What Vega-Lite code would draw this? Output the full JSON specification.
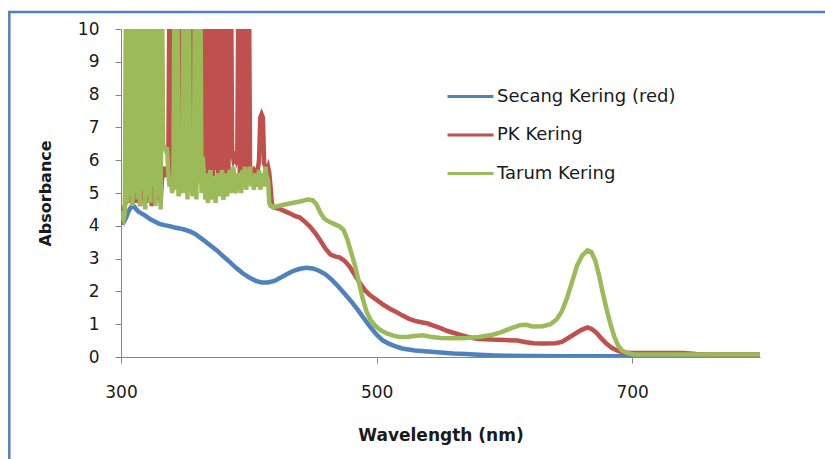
{
  "$schema": "https://vega.github.io/schema/vega-lite/v6.json",
  "width": 639,
  "height": 328,
  "autosize": "none",
  "padding": {"left": 121, "top": 29, "right": 65, "bottom": 102},
  "background": "white",
  "config": {
    "view": {"stroke": null},
    "font": "DejaVu Sans",
    "axis": {
      "grid": false,
      "domainColor": "#868686",
      "domainWidth": 1,
      "tickColor": "#868686",
      "tickSize": 6,
      "labelColor": "#1a1a1a",
      "labelFont": "DejaVu Sans",
      "labelFontSize": 17,
      "labelFlush": false,
      "labelOverlap": false,
      "titleColor": "#1a1a1a",
      "titleFont": "DejaVu Sans",
      "titleFontWeight": "bold"
    },
    "legend": {
      "orient": "none",
      "legendX": 325,
      "legendY": 43,
      "symbolType": "stroke",
      "symbolSize": 2116,
      "symbolStrokeWidth": 3,
      "labelFont": "DejaVu Sans",
      "labelFontSize": 18,
      "labelColor": "#1a1a1a",
      "labelOffset": 2,
      "rowPadding": 4.5,
      "labelLimit": 400
    }
  },
  "datasets": {
    "spectra": [
      {"series": "Secang Kering (red)", "wavelength": 300, "absorbance": 4.08},
      {"series": "Secang Kering (red)", "wavelength": 302, "absorbance": 4.1},
      {"series": "Secang Kering (red)", "wavelength": 304, "absorbance": 4.25},
      {"series": "Secang Kering (red)", "wavelength": 306, "absorbance": 4.45},
      {"series": "Secang Kering (red)", "wavelength": 308, "absorbance": 4.58},
      {"series": "Secang Kering (red)", "wavelength": 310, "absorbance": 4.6},
      {"series": "Secang Kering (red)", "wavelength": 312, "absorbance": 4.5},
      {"series": "Secang Kering (red)", "wavelength": 314, "absorbance": 4.42},
      {"series": "Secang Kering (red)", "wavelength": 316, "absorbance": 4.38},
      {"series": "Secang Kering (red)", "wavelength": 318, "absorbance": 4.33},
      {"series": "Secang Kering (red)", "wavelength": 320, "absorbance": 4.28},
      {"series": "Secang Kering (red)", "wavelength": 323, "absorbance": 4.2},
      {"series": "Secang Kering (red)", "wavelength": 326, "absorbance": 4.14},
      {"series": "Secang Kering (red)", "wavelength": 330, "absorbance": 4.06},
      {"series": "Secang Kering (red)", "wavelength": 334, "absorbance": 4.02},
      {"series": "Secang Kering (red)", "wavelength": 338, "absorbance": 3.99},
      {"series": "Secang Kering (red)", "wavelength": 342, "absorbance": 3.95},
      {"series": "Secang Kering (red)", "wavelength": 346, "absorbance": 3.92},
      {"series": "Secang Kering (red)", "wavelength": 350, "absorbance": 3.88},
      {"series": "Secang Kering (red)", "wavelength": 354, "absorbance": 3.83},
      {"series": "Secang Kering (red)", "wavelength": 358, "absorbance": 3.75},
      {"series": "Secang Kering (red)", "wavelength": 362, "absorbance": 3.64},
      {"series": "Secang Kering (red)", "wavelength": 366, "absorbance": 3.52},
      {"series": "Secang Kering (red)", "wavelength": 370, "absorbance": 3.4},
      {"series": "Secang Kering (red)", "wavelength": 375, "absorbance": 3.25},
      {"series": "Secang Kering (red)", "wavelength": 380, "absorbance": 3.07},
      {"series": "Secang Kering (red)", "wavelength": 385, "absorbance": 2.9},
      {"series": "Secang Kering (red)", "wavelength": 390, "absorbance": 2.72},
      {"series": "Secang Kering (red)", "wavelength": 395, "absorbance": 2.56},
      {"series": "Secang Kering (red)", "wavelength": 400, "absorbance": 2.43},
      {"series": "Secang Kering (red)", "wavelength": 405, "absorbance": 2.33},
      {"series": "Secang Kering (red)", "wavelength": 410, "absorbance": 2.27},
      {"series": "Secang Kering (red)", "wavelength": 415, "absorbance": 2.27},
      {"series": "Secang Kering (red)", "wavelength": 420, "absorbance": 2.32},
      {"series": "Secang Kering (red)", "wavelength": 425, "absorbance": 2.42},
      {"series": "Secang Kering (red)", "wavelength": 430, "absorbance": 2.53},
      {"series": "Secang Kering (red)", "wavelength": 435, "absorbance": 2.63},
      {"series": "Secang Kering (red)", "wavelength": 440, "absorbance": 2.69},
      {"series": "Secang Kering (red)", "wavelength": 445, "absorbance": 2.72},
      {"series": "Secang Kering (red)", "wavelength": 450, "absorbance": 2.7},
      {"series": "Secang Kering (red)", "wavelength": 455, "absorbance": 2.63},
      {"series": "Secang Kering (red)", "wavelength": 460, "absorbance": 2.52},
      {"series": "Secang Kering (red)", "wavelength": 465, "absorbance": 2.35},
      {"series": "Secang Kering (red)", "wavelength": 470, "absorbance": 2.15},
      {"series": "Secang Kering (red)", "wavelength": 475, "absorbance": 1.93},
      {"series": "Secang Kering (red)", "wavelength": 480, "absorbance": 1.7},
      {"series": "Secang Kering (red)", "wavelength": 485, "absorbance": 1.45},
      {"series": "Secang Kering (red)", "wavelength": 490, "absorbance": 1.18},
      {"series": "Secang Kering (red)", "wavelength": 495, "absorbance": 0.92},
      {"series": "Secang Kering (red)", "wavelength": 500, "absorbance": 0.68},
      {"series": "Secang Kering (red)", "wavelength": 505, "absorbance": 0.5},
      {"series": "Secang Kering (red)", "wavelength": 510, "absorbance": 0.4},
      {"series": "Secang Kering (red)", "wavelength": 515, "absorbance": 0.32},
      {"series": "Secang Kering (red)", "wavelength": 520, "absorbance": 0.26},
      {"series": "Secang Kering (red)", "wavelength": 530, "absorbance": 0.2},
      {"series": "Secang Kering (red)", "wavelength": 540, "absorbance": 0.17},
      {"series": "Secang Kering (red)", "wavelength": 550, "absorbance": 0.14},
      {"series": "Secang Kering (red)", "wavelength": 560, "absorbance": 0.11},
      {"series": "Secang Kering (red)", "wavelength": 570, "absorbance": 0.09},
      {"series": "Secang Kering (red)", "wavelength": 580, "absorbance": 0.07},
      {"series": "Secang Kering (red)", "wavelength": 590, "absorbance": 0.05},
      {"series": "Secang Kering (red)", "wavelength": 600, "absorbance": 0.04},
      {"series": "Secang Kering (red)", "wavelength": 620, "absorbance": 0.03},
      {"series": "Secang Kering (red)", "wavelength": 650, "absorbance": 0.02},
      {"series": "Secang Kering (red)", "wavelength": 700, "absorbance": 0.02},
      {"series": "Secang Kering (red)", "wavelength": 750, "absorbance": 0.02},
      {"series": "Secang Kering (red)", "wavelength": 800, "absorbance": 0.02},

      {"series": "PK Kering", "wavelength": 300, "absorbance": 4.4},
      {"series": "PK Kering", "wavelength": 301, "absorbance": 4.3},
      {"series": "PK Kering", "wavelength": 302, "absorbance": 4.5},
      {"series": "PK Kering", "wavelength": 303, "absorbance": 4.6},
      {"series": "PK Kering", "wavelength": 304, "absorbance": 4.8},
      {"series": "PK Kering", "wavelength": 305, "absorbance": 5.3},
      {"series": "PK Kering", "wavelength": 306, "absorbance": 4.7},
      {"series": "PK Kering", "wavelength": 307, "absorbance": 5.0},
      {"series": "PK Kering", "wavelength": 308, "absorbance": 5.6},
      {"series": "PK Kering", "wavelength": 309, "absorbance": 4.8},
      {"series": "PK Kering", "wavelength": 310, "absorbance": 5.2},
      {"series": "PK Kering", "wavelength": 311, "absorbance": 4.7},
      {"series": "PK Kering", "wavelength": 312, "absorbance": 5.5},
      {"series": "PK Kering", "wavelength": 313, "absorbance": 4.9},
      {"series": "PK Kering", "wavelength": 314, "absorbance": 5.1},
      {"series": "PK Kering", "wavelength": 315, "absorbance": 4.6},
      {"series": "PK Kering", "wavelength": 316, "absorbance": 5.4},
      {"series": "PK Kering", "wavelength": 317, "absorbance": 4.8},
      {"series": "PK Kering", "wavelength": 318, "absorbance": 5.0},
      {"series": "PK Kering", "wavelength": 319, "absorbance": 5.6},
      {"series": "PK Kering", "wavelength": 320, "absorbance": 4.7},
      {"series": "PK Kering", "wavelength": 321, "absorbance": 5.2},
      {"series": "PK Kering", "wavelength": 322, "absorbance": 4.9},
      {"series": "PK Kering", "wavelength": 323, "absorbance": 5.5},
      {"series": "PK Kering", "wavelength": 324, "absorbance": 4.6},
      {"series": "PK Kering", "wavelength": 325, "absorbance": 5.0},
      {"series": "PK Kering", "wavelength": 326, "absorbance": 5.3},
      {"series": "PK Kering", "wavelength": 327, "absorbance": 4.8},
      {"series": "PK Kering", "wavelength": 328, "absorbance": 5.6},
      {"series": "PK Kering", "wavelength": 329, "absorbance": 4.9},
      {"series": "PK Kering", "wavelength": 330, "absorbance": 5.1},
      {"series": "PK Kering", "wavelength": 331, "absorbance": 4.7},
      {"series": "PK Kering", "wavelength": 332, "absorbance": 5.4},
      {"series": "PK Kering", "wavelength": 333, "absorbance": 5.6},
      {"series": "PK Kering", "wavelength": 334, "absorbance": 5.8},
      {"series": "PK Kering", "wavelength": 335, "absorbance": 5.5},
      {"series": "PK Kering", "wavelength": 336, "absorbance": 5.6},
      {"series": "PK Kering", "wavelength": 337, "absorbance": 5.5},
      {"series": "PK Kering", "wavelength": 338, "absorbance": 12},
      {"series": "PK Kering", "wavelength": 339, "absorbance": 5.5},
      {"series": "PK Kering", "wavelength": 340, "absorbance": 5.6},
      {"series": "PK Kering", "wavelength": 341, "absorbance": 5.4},
      {"series": "PK Kering", "wavelength": 342, "absorbance": 5.7},
      {"series": "PK Kering", "wavelength": 343, "absorbance": 5.5},
      {"series": "PK Kering", "wavelength": 344, "absorbance": 5.6},
      {"series": "PK Kering", "wavelength": 345, "absorbance": 5.5},
      {"series": "PK Kering", "wavelength": 346, "absorbance": 12},
      {"series": "PK Kering", "wavelength": 347, "absorbance": 5.5},
      {"series": "PK Kering", "wavelength": 348, "absorbance": 5.6},
      {"series": "PK Kering", "wavelength": 349, "absorbance": 5.4},
      {"series": "PK Kering", "wavelength": 350, "absorbance": 5.7},
      {"series": "PK Kering", "wavelength": 351, "absorbance": 5.5},
      {"series": "PK Kering", "wavelength": 352, "absorbance": 5.6},
      {"series": "PK Kering", "wavelength": 353, "absorbance": 5.5},
      {"series": "PK Kering", "wavelength": 354, "absorbance": 5.6},
      {"series": "PK Kering", "wavelength": 355, "absorbance": 12},
      {"series": "PK Kering", "wavelength": 356, "absorbance": 5.5},
      {"series": "PK Kering", "wavelength": 357, "absorbance": 5.7},
      {"series": "PK Kering", "wavelength": 358, "absorbance": 5.4},
      {"series": "PK Kering", "wavelength": 359, "absorbance": 5.6},
      {"series": "PK Kering", "wavelength": 360, "absorbance": 5.5},
      {"series": "PK Kering", "wavelength": 361, "absorbance": 5.7},
      {"series": "PK Kering", "wavelength": 362, "absorbance": 5.4},
      {"series": "PK Kering", "wavelength": 363, "absorbance": 5.6},
      {"series": "PK Kering", "wavelength": 364, "absorbance": 5.5},
      {"series": "PK Kering", "wavelength": 365, "absorbance": 12},
      {"series": "PK Kering", "wavelength": 366, "absorbance": 5.4},
      {"series": "PK Kering", "wavelength": 367, "absorbance": 12},
      {"series": "PK Kering", "wavelength": 368, "absorbance": 5.6},
      {"series": "PK Kering", "wavelength": 369, "absorbance": 12},
      {"series": "PK Kering", "wavelength": 370, "absorbance": 5.3},
      {"series": "PK Kering", "wavelength": 371, "absorbance": 12},
      {"series": "PK Kering", "wavelength": 372, "absorbance": 5.5},
      {"series": "PK Kering", "wavelength": 373, "absorbance": 12},
      {"series": "PK Kering", "wavelength": 374, "absorbance": 5.7},
      {"series": "PK Kering", "wavelength": 375, "absorbance": 12},
      {"series": "PK Kering", "wavelength": 376, "absorbance": 5.3},
      {"series": "PK Kering", "wavelength": 377, "absorbance": 12},
      {"series": "PK Kering", "wavelength": 378, "absorbance": 5.6},
      {"series": "PK Kering", "wavelength": 379, "absorbance": 12},
      {"series": "PK Kering", "wavelength": 380, "absorbance": 5.4},
      {"series": "PK Kering", "wavelength": 381, "absorbance": 12},
      {"series": "PK Kering", "wavelength": 382, "absorbance": 5.6},
      {"series": "PK Kering", "wavelength": 383, "absorbance": 12},
      {"series": "PK Kering", "wavelength": 384, "absorbance": 5.3},
      {"series": "PK Kering", "wavelength": 385, "absorbance": 12},
      {"series": "PK Kering", "wavelength": 386, "absorbance": 12},
      {"series": "PK Kering", "wavelength": 387, "absorbance": 6.2},
      {"series": "PK Kering", "wavelength": 388, "absorbance": 6.0},
      {"series": "PK Kering", "wavelength": 389, "absorbance": 6.1},
      {"series": "PK Kering", "wavelength": 390, "absorbance": 6.0},
      {"series": "PK Kering", "wavelength": 391, "absorbance": 6.2},
      {"series": "PK Kering", "wavelength": 392, "absorbance": 12},
      {"series": "PK Kering", "wavelength": 393, "absorbance": 5.6},
      {"series": "PK Kering", "wavelength": 394, "absorbance": 12},
      {"series": "PK Kering", "wavelength": 395, "absorbance": 5.5},
      {"series": "PK Kering", "wavelength": 396, "absorbance": 12},
      {"series": "PK Kering", "wavelength": 397, "absorbance": 5.7},
      {"series": "PK Kering", "wavelength": 398, "absorbance": 12},
      {"series": "PK Kering", "wavelength": 399, "absorbance": 5.6},
      {"series": "PK Kering", "wavelength": 400, "absorbance": 12},
      {"series": "PK Kering", "wavelength": 401, "absorbance": 5.6},
      {"series": "PK Kering", "wavelength": 402, "absorbance": 5.5},
      {"series": "PK Kering", "wavelength": 403, "absorbance": 5.6},
      {"series": "PK Kering", "wavelength": 404, "absorbance": 5.4},
      {"series": "PK Kering", "wavelength": 405, "absorbance": 5.6},
      {"series": "PK Kering", "wavelength": 406, "absorbance": 5.5},
      {"series": "PK Kering", "wavelength": 407, "absorbance": 5.7},
      {"series": "PK Kering", "wavelength": 408, "absorbance": 6.0},
      {"series": "PK Kering", "wavelength": 409, "absorbance": 7.3},
      {"series": "PK Kering", "wavelength": 410, "absorbance": 7.4},
      {"series": "PK Kering", "wavelength": 411, "absorbance": 7.3},
      {"series": "PK Kering", "wavelength": 412, "absorbance": 5.9},
      {"series": "PK Kering", "wavelength": 413, "absorbance": 5.8},
      {"series": "PK Kering", "wavelength": 414, "absorbance": 5.7},
      {"series": "PK Kering", "wavelength": 415, "absorbance": 5.8},
      {"series": "PK Kering", "wavelength": 416, "absorbance": 5.6},
      {"series": "PK Kering", "wavelength": 417, "absorbance": 5.2},
      {"series": "PK Kering", "wavelength": 418, "absorbance": 4.7},
      {"series": "PK Kering", "wavelength": 419, "absorbance": 4.57},
      {"series": "PK Kering", "wavelength": 425, "absorbance": 4.5},
      {"series": "PK Kering", "wavelength": 432, "absorbance": 4.38},
      {"series": "PK Kering", "wavelength": 436, "absorbance": 4.3},
      {"series": "PK Kering", "wavelength": 440, "absorbance": 4.25},
      {"series": "PK Kering", "wavelength": 444, "absorbance": 4.12},
      {"series": "PK Kering", "wavelength": 448, "absorbance": 3.97},
      {"series": "PK Kering", "wavelength": 452, "absorbance": 3.78},
      {"series": "PK Kering", "wavelength": 456, "absorbance": 3.55},
      {"series": "PK Kering", "wavelength": 460, "absorbance": 3.3},
      {"series": "PK Kering", "wavelength": 464, "absorbance": 3.12},
      {"series": "PK Kering", "wavelength": 468, "absorbance": 3.06},
      {"series": "PK Kering", "wavelength": 471, "absorbance": 3.04},
      {"series": "PK Kering", "wavelength": 475, "absorbance": 2.93},
      {"series": "PK Kering", "wavelength": 479, "absorbance": 2.75},
      {"series": "PK Kering", "wavelength": 483, "absorbance": 2.5},
      {"series": "PK Kering", "wavelength": 487, "absorbance": 2.25},
      {"series": "PK Kering", "wavelength": 491, "absorbance": 2.03},
      {"series": "PK Kering", "wavelength": 495, "absorbance": 1.88},
      {"series": "PK Kering", "wavelength": 500, "absorbance": 1.74},
      {"series": "PK Kering", "wavelength": 505, "absorbance": 1.6},
      {"series": "PK Kering", "wavelength": 510, "absorbance": 1.48},
      {"series": "PK Kering", "wavelength": 516, "absorbance": 1.36},
      {"series": "PK Kering", "wavelength": 520, "absorbance": 1.27},
      {"series": "PK Kering", "wavelength": 525, "absorbance": 1.17},
      {"series": "PK Kering", "wavelength": 530, "absorbance": 1.1},
      {"series": "PK Kering", "wavelength": 535, "absorbance": 1.06},
      {"series": "PK Kering", "wavelength": 540, "absorbance": 1.02},
      {"series": "PK Kering", "wavelength": 545, "absorbance": 0.95},
      {"series": "PK Kering", "wavelength": 550, "absorbance": 0.88},
      {"series": "PK Kering", "wavelength": 555, "absorbance": 0.8},
      {"series": "PK Kering", "wavelength": 560, "absorbance": 0.74},
      {"series": "PK Kering", "wavelength": 565, "absorbance": 0.68},
      {"series": "PK Kering", "wavelength": 570, "absorbance": 0.63},
      {"series": "PK Kering", "wavelength": 575, "absorbance": 0.58},
      {"series": "PK Kering", "wavelength": 580, "absorbance": 0.55},
      {"series": "PK Kering", "wavelength": 590, "absorbance": 0.53},
      {"series": "PK Kering", "wavelength": 600, "absorbance": 0.52},
      {"series": "PK Kering", "wavelength": 610, "absorbance": 0.5},
      {"series": "PK Kering", "wavelength": 617, "absorbance": 0.45},
      {"series": "PK Kering", "wavelength": 623, "absorbance": 0.42},
      {"series": "PK Kering", "wavelength": 630, "absorbance": 0.41},
      {"series": "PK Kering", "wavelength": 640, "absorbance": 0.42},
      {"series": "PK Kering", "wavelength": 645, "absorbance": 0.46},
      {"series": "PK Kering", "wavelength": 650, "absorbance": 0.58},
      {"series": "PK Kering", "wavelength": 655, "absorbance": 0.7},
      {"series": "PK Kering", "wavelength": 660, "absorbance": 0.82},
      {"series": "PK Kering", "wavelength": 665, "absorbance": 0.9},
      {"series": "PK Kering", "wavelength": 668, "absorbance": 0.86},
      {"series": "PK Kering", "wavelength": 672, "absorbance": 0.74},
      {"series": "PK Kering", "wavelength": 676, "absorbance": 0.56},
      {"series": "PK Kering", "wavelength": 680, "absorbance": 0.4},
      {"series": "PK Kering", "wavelength": 684, "absorbance": 0.28},
      {"series": "PK Kering", "wavelength": 688, "absorbance": 0.2},
      {"series": "PK Kering", "wavelength": 693, "absorbance": 0.14},
      {"series": "PK Kering", "wavelength": 700, "absorbance": 0.12},
      {"series": "PK Kering", "wavelength": 720, "absorbance": 0.12},
      {"series": "PK Kering", "wavelength": 740, "absorbance": 0.12},
      {"series": "PK Kering", "wavelength": 750, "absorbance": 0.09},
      {"series": "PK Kering", "wavelength": 760, "absorbance": 0.08},
      {"series": "PK Kering", "wavelength": 800, "absorbance": 0.08},

      {"series": "Tarum Kering", "wavelength": 300, "absorbance": 4.2},
      {"series": "Tarum Kering", "wavelength": 301, "absorbance": 4.3},
      {"series": "Tarum Kering", "wavelength": 302, "absorbance": 4.2},
      {"series": "Tarum Kering", "wavelength": 303, "absorbance": 4.4},
      {"series": "Tarum Kering", "wavelength": 304, "absorbance": 12},
      {"series": "Tarum Kering", "wavelength": 305, "absorbance": 4.7},
      {"series": "Tarum Kering", "wavelength": 306, "absorbance": 12},
      {"series": "Tarum Kering", "wavelength": 307, "absorbance": 4.9},
      {"series": "Tarum Kering", "wavelength": 308, "absorbance": 12},
      {"series": "Tarum Kering", "wavelength": 309, "absorbance": 4.6},
      {"series": "Tarum Kering", "wavelength": 310, "absorbance": 12},
      {"series": "Tarum Kering", "wavelength": 311, "absorbance": 5.0},
      {"series": "Tarum Kering", "wavelength": 312, "absorbance": 12},
      {"series": "Tarum Kering", "wavelength": 313, "absorbance": 4.8},
      {"series": "Tarum Kering", "wavelength": 314, "absorbance": 12},
      {"series": "Tarum Kering", "wavelength": 315, "absorbance": 4.6},
      {"series": "Tarum Kering", "wavelength": 316, "absorbance": 12},
      {"series": "Tarum Kering", "wavelength": 317, "absorbance": 5.1},
      {"series": "Tarum Kering", "wavelength": 318, "absorbance": 12},
      {"series": "Tarum Kering", "wavelength": 319, "absorbance": 4.5},
      {"series": "Tarum Kering", "wavelength": 320, "absorbance": 12},
      {"series": "Tarum Kering", "wavelength": 321, "absorbance": 4.9},
      {"series": "Tarum Kering", "wavelength": 322, "absorbance": 12},
      {"series": "Tarum Kering", "wavelength": 323, "absorbance": 4.7},
      {"series": "Tarum Kering", "wavelength": 324, "absorbance": 12},
      {"series": "Tarum Kering", "wavelength": 325, "absorbance": 5.2},
      {"series": "Tarum Kering", "wavelength": 326, "absorbance": 12},
      {"series": "Tarum Kering", "wavelength": 327, "absorbance": 4.6},
      {"series": "Tarum Kering", "wavelength": 328, "absorbance": 12},
      {"series": "Tarum Kering", "wavelength": 329, "absorbance": 4.9},
      {"series": "Tarum Kering", "wavelength": 330, "absorbance": 12},
      {"series": "Tarum Kering", "wavelength": 331, "absorbance": 4.5},
      {"series": "Tarum Kering", "wavelength": 332, "absorbance": 12},
      {"series": "Tarum Kering", "wavelength": 333, "absorbance": 6.4},
      {"series": "Tarum Kering", "wavelength": 334, "absorbance": 6.4},
      {"series": "Tarum Kering", "wavelength": 335, "absorbance": 6.3},
      {"series": "Tarum Kering", "wavelength": 336, "absorbance": 6.4},
      {"series": "Tarum Kering", "wavelength": 337, "absorbance": 5.6},
      {"series": "Tarum Kering", "wavelength": 338, "absorbance": 5.2},
      {"series": "Tarum Kering", "wavelength": 339, "absorbance": 5.4},
      {"series": "Tarum Kering", "wavelength": 340, "absorbance": 5.0},
      {"series": "Tarum Kering", "wavelength": 341, "absorbance": 5.3},
      {"series": "Tarum Kering", "wavelength": 342, "absorbance": 12},
      {"series": "Tarum Kering", "wavelength": 343, "absorbance": 5.1},
      {"series": "Tarum Kering", "wavelength": 344, "absorbance": 12},
      {"series": "Tarum Kering", "wavelength": 345, "absorbance": 4.9},
      {"series": "Tarum Kering", "wavelength": 346, "absorbance": 5.2},
      {"series": "Tarum Kering", "wavelength": 347, "absorbance": 5.0},
      {"series": "Tarum Kering", "wavelength": 348, "absorbance": 5.3},
      {"series": "Tarum Kering", "wavelength": 349, "absorbance": 12},
      {"series": "Tarum Kering", "wavelength": 350, "absorbance": 5.0},
      {"series": "Tarum Kering", "wavelength": 351, "absorbance": 12},
      {"series": "Tarum Kering", "wavelength": 352, "absorbance": 4.8},
      {"series": "Tarum Kering", "wavelength": 353, "absorbance": 12},
      {"series": "Tarum Kering", "wavelength": 354, "absorbance": 5.1},
      {"series": "Tarum Kering", "wavelength": 355, "absorbance": 5.3},
      {"series": "Tarum Kering", "wavelength": 356, "absorbance": 4.9},
      {"series": "Tarum Kering", "wavelength": 357, "absorbance": 5.2},
      {"series": "Tarum Kering", "wavelength": 358, "absorbance": 12},
      {"series": "Tarum Kering", "wavelength": 359, "absorbance": 4.8},
      {"series": "Tarum Kering", "wavelength": 360, "absorbance": 12},
      {"series": "Tarum Kering", "wavelength": 361, "absorbance": 5.3},
      {"series": "Tarum Kering", "wavelength": 362, "absorbance": 12},
      {"series": "Tarum Kering", "wavelength": 363, "absorbance": 5.0},
      {"series": "Tarum Kering", "wavelength": 364, "absorbance": 6.1},
      {"series": "Tarum Kering", "wavelength": 365, "absorbance": 5.4},
      {"series": "Tarum Kering", "wavelength": 366, "absorbance": 4.8},
      {"series": "Tarum Kering", "wavelength": 367, "absorbance": 5.6},
      {"series": "Tarum Kering", "wavelength": 368, "absorbance": 4.7},
      {"series": "Tarum Kering", "wavelength": 369, "absorbance": 5.2},
      {"series": "Tarum Kering", "wavelength": 370, "absorbance": 5.7},
      {"series": "Tarum Kering", "wavelength": 371, "absorbance": 4.8},
      {"series": "Tarum Kering", "wavelength": 372, "absorbance": 5.1},
      {"series": "Tarum Kering", "wavelength": 373, "absorbance": 5.5},
      {"series": "Tarum Kering", "wavelength": 374, "absorbance": 4.7},
      {"series": "Tarum Kering", "wavelength": 375, "absorbance": 5.3},
      {"series": "Tarum Kering", "wavelength": 376, "absorbance": 5.6},
      {"series": "Tarum Kering", "wavelength": 377, "absorbance": 4.9},
      {"series": "Tarum Kering", "wavelength": 378, "absorbance": 5.2},
      {"series": "Tarum Kering", "wavelength": 379, "absorbance": 5.7},
      {"series": "Tarum Kering", "wavelength": 380, "absorbance": 4.8},
      {"series": "Tarum Kering", "wavelength": 381, "absorbance": 5.0},
      {"series": "Tarum Kering", "wavelength": 382, "absorbance": 5.6},
      {"series": "Tarum Kering", "wavelength": 383, "absorbance": 4.9},
      {"series": "Tarum Kering", "wavelength": 384, "absorbance": 5.4},
      {"series": "Tarum Kering", "wavelength": 385, "absorbance": 5.7},
      {"series": "Tarum Kering", "wavelength": 386, "absorbance": 5.0},
      {"series": "Tarum Kering", "wavelength": 387, "absorbance": 5.3},
      {"series": "Tarum Kering", "wavelength": 388, "absorbance": 5.8},
      {"series": "Tarum Kering", "wavelength": 389, "absorbance": 5.1},
      {"series": "Tarum Kering", "wavelength": 390, "absorbance": 5.0},
      {"series": "Tarum Kering", "wavelength": 391, "absorbance": 5.6},
      {"series": "Tarum Kering", "wavelength": 392, "absorbance": 5.2},
      {"series": "Tarum Kering", "wavelength": 393, "absorbance": 5.5},
      {"series": "Tarum Kering", "wavelength": 394, "absorbance": 5.0},
      {"series": "Tarum Kering", "wavelength": 395, "absorbance": 5.7},
      {"series": "Tarum Kering", "wavelength": 396, "absorbance": 5.3},
      {"series": "Tarum Kering", "wavelength": 397, "absorbance": 5.8},
      {"series": "Tarum Kering", "wavelength": 398, "absorbance": 5.1},
      {"series": "Tarum Kering", "wavelength": 399, "absorbance": 5.6},
      {"series": "Tarum Kering", "wavelength": 400, "absorbance": 5.4},
      {"series": "Tarum Kering", "wavelength": 401, "absorbance": 5.8},
      {"series": "Tarum Kering", "wavelength": 402, "absorbance": 5.2},
      {"series": "Tarum Kering", "wavelength": 403, "absorbance": 5.5},
      {"series": "Tarum Kering", "wavelength": 404, "absorbance": 5.1},
      {"series": "Tarum Kering", "wavelength": 405, "absorbance": 5.6},
      {"series": "Tarum Kering", "wavelength": 406, "absorbance": 5.3},
      {"series": "Tarum Kering", "wavelength": 407, "absorbance": 5.2},
      {"series": "Tarum Kering", "wavelength": 408, "absorbance": 5.7},
      {"series": "Tarum Kering", "wavelength": 409, "absorbance": 5.1},
      {"series": "Tarum Kering", "wavelength": 410, "absorbance": 5.4},
      {"series": "Tarum Kering", "wavelength": 411, "absorbance": 5.6},
      {"series": "Tarum Kering", "wavelength": 412, "absorbance": 5.2},
      {"series": "Tarum Kering", "wavelength": 413, "absorbance": 5.8},
      {"series": "Tarum Kering", "wavelength": 414, "absorbance": 5.5},
      {"series": "Tarum Kering", "wavelength": 415, "absorbance": 5.4},
      {"series": "Tarum Kering", "wavelength": 416, "absorbance": 4.7},
      {"series": "Tarum Kering", "wavelength": 417, "absorbance": 4.6},
      {"series": "Tarum Kering", "wavelength": 418, "absorbance": 4.6},
      {"series": "Tarum Kering", "wavelength": 419, "absorbance": 4.57},
      {"series": "Tarum Kering", "wavelength": 425, "absorbance": 4.62},
      {"series": "Tarum Kering", "wavelength": 432, "absorbance": 4.68},
      {"series": "Tarum Kering", "wavelength": 440, "absorbance": 4.74},
      {"series": "Tarum Kering", "wavelength": 446, "absorbance": 4.8},
      {"series": "Tarum Kering", "wavelength": 450, "absorbance": 4.78},
      {"series": "Tarum Kering", "wavelength": 453, "absorbance": 4.65},
      {"series": "Tarum Kering", "wavelength": 456, "absorbance": 4.4},
      {"series": "Tarum Kering", "wavelength": 459, "absorbance": 4.22},
      {"series": "Tarum Kering", "wavelength": 463, "absorbance": 4.12},
      {"series": "Tarum Kering", "wavelength": 467, "absorbance": 4.05},
      {"series": "Tarum Kering", "wavelength": 471, "absorbance": 3.98},
      {"series": "Tarum Kering", "wavelength": 474, "absorbance": 3.88},
      {"series": "Tarum Kering", "wavelength": 477, "absorbance": 3.6},
      {"series": "Tarum Kering", "wavelength": 480, "absorbance": 3.2},
      {"series": "Tarum Kering", "wavelength": 483, "absorbance": 2.8},
      {"series": "Tarum Kering", "wavelength": 486, "absorbance": 2.3},
      {"series": "Tarum Kering", "wavelength": 489, "absorbance": 1.8},
      {"series": "Tarum Kering", "wavelength": 492, "absorbance": 1.4},
      {"series": "Tarum Kering", "wavelength": 495, "absorbance": 1.15},
      {"series": "Tarum Kering", "wavelength": 499, "absorbance": 0.95},
      {"series": "Tarum Kering", "wavelength": 503, "absorbance": 0.82},
      {"series": "Tarum Kering", "wavelength": 508, "absorbance": 0.72},
      {"series": "Tarum Kering", "wavelength": 513, "absorbance": 0.65},
      {"series": "Tarum Kering", "wavelength": 518, "absorbance": 0.61},
      {"series": "Tarum Kering", "wavelength": 525, "absorbance": 0.62},
      {"series": "Tarum Kering", "wavelength": 530, "absorbance": 0.64},
      {"series": "Tarum Kering", "wavelength": 536, "absorbance": 0.66},
      {"series": "Tarum Kering", "wavelength": 542, "absorbance": 0.62},
      {"series": "Tarum Kering", "wavelength": 550, "absorbance": 0.58},
      {"series": "Tarum Kering", "wavelength": 560, "absorbance": 0.57},
      {"series": "Tarum Kering", "wavelength": 570, "absorbance": 0.58},
      {"series": "Tarum Kering", "wavelength": 580, "absorbance": 0.61},
      {"series": "Tarum Kering", "wavelength": 590, "absorbance": 0.67},
      {"series": "Tarum Kering", "wavelength": 597, "absorbance": 0.75},
      {"series": "Tarum Kering", "wavelength": 605, "absorbance": 0.87},
      {"series": "Tarum Kering", "wavelength": 612, "absorbance": 0.97},
      {"series": "Tarum Kering", "wavelength": 617, "absorbance": 0.98},
      {"series": "Tarum Kering", "wavelength": 622, "absorbance": 0.93},
      {"series": "Tarum Kering", "wavelength": 630, "absorbance": 0.94},
      {"series": "Tarum Kering", "wavelength": 636, "absorbance": 1.0},
      {"series": "Tarum Kering", "wavelength": 641, "absorbance": 1.15},
      {"series": "Tarum Kering", "wavelength": 645, "absorbance": 1.4},
      {"series": "Tarum Kering", "wavelength": 649, "absorbance": 1.8},
      {"series": "Tarum Kering", "wavelength": 653, "absorbance": 2.3},
      {"series": "Tarum Kering", "wavelength": 657, "absorbance": 2.8},
      {"series": "Tarum Kering", "wavelength": 661, "absorbance": 3.1},
      {"series": "Tarum Kering", "wavelength": 665, "absorbance": 3.25},
      {"series": "Tarum Kering", "wavelength": 668, "absorbance": 3.2},
      {"series": "Tarum Kering", "wavelength": 671, "absorbance": 2.95},
      {"series": "Tarum Kering", "wavelength": 674, "absorbance": 2.5},
      {"series": "Tarum Kering", "wavelength": 677, "absorbance": 1.95},
      {"series": "Tarum Kering", "wavelength": 680, "absorbance": 1.45},
      {"series": "Tarum Kering", "wavelength": 683, "absorbance": 1.0},
      {"series": "Tarum Kering", "wavelength": 686, "absorbance": 0.62},
      {"series": "Tarum Kering", "wavelength": 689, "absorbance": 0.35},
      {"series": "Tarum Kering", "wavelength": 692, "absorbance": 0.2},
      {"series": "Tarum Kering", "wavelength": 696, "absorbance": 0.12},
      {"series": "Tarum Kering", "wavelength": 701, "absorbance": 0.08},
      {"series": "Tarum Kering", "wavelength": 750, "absorbance": 0.08},
      {"series": "Tarum Kering", "wavelength": 800, "absorbance": 0.08}
    ]
  },
  "layer": [
    {
      "data": {"name": "spectra"},
      "transform": [{"filter": "datum.series === 'Secang Kering (red)'"}],
      "mark": {"type": "line", "strokeWidth": 4.5, "clip": true},
      "encoding": {
        "x": {
          "field": "wavelength",
          "type": "quantitative",
          "title": "Wavelength (nm)",
          "scale": {"domain": [300, 800], "nice": false, "zero": false},
          "axis": {"values": [300, 500, 700], "labelPadding": 21, "titlePadding": 27, "titleFontSize": 17, "labelOverlap": false}
        },
        "y": {
          "field": "absorbance",
          "type": "quantitative",
          "title": "Absorbance",
          "scale": {"domain": [0, 10], "nice": false},
          "axis": {"values": [0, 1, 2, 3, 4, 5, 6, 7, 8, 9, 10], "labelPadding": 16, "titlePadding": 24, "titleFontSize": 16, "labelOverlap": false}
        },
        "color": {
          "field": "series",
          "type": "nominal",
          "title": null,
          "scale": {
            "domain": ["Secang Kering (red)", "PK Kering", "Tarum Kering"],
            "range": ["#4F81BD", "#C0504D", "#9BBB59"]
          }
        }
      }
    },
    {
      "data": {"name": "spectra"},
      "transform": [{"filter": "datum.series === 'PK Kering'"}],
      "mark": {"type": "line", "strokeWidth": 4.5, "clip": true},
      "encoding": {
        "x": {"field": "wavelength", "type": "quantitative", "title": "Wavelength (nm)",
          "axis": {"values": [300, 500, 700], "labelPadding": 21, "titlePadding": 27, "titleFontSize": 17, "labelOverlap": false}},
        "y": {"field": "absorbance", "type": "quantitative", "title": "Absorbance",
          "axis": {"values": [0, 1, 2, 3, 4, 5, 6, 7, 8, 9, 10], "labelPadding": 16, "titlePadding": 24, "titleFontSize": 16, "labelOverlap": false}},
        "color": {"field": "series", "type": "nominal", "title": null}
      }
    },
    {
      "data": {"name": "spectra"},
      "transform": [{"filter": "datum.series === 'Tarum Kering'"}],
      "mark": {"type": "line", "strokeWidth": 4.5, "clip": true},
      "encoding": {
        "x": {"field": "wavelength", "type": "quantitative", "title": "Wavelength (nm)",
          "axis": {"values": [300, 500, 700], "labelPadding": 21, "titlePadding": 27, "titleFontSize": 17, "labelOverlap": false}},
        "y": {"field": "absorbance", "type": "quantitative", "title": "Absorbance",
          "axis": {"values": [0, 1, 2, 3, 4, 5, 6, 7, 8, 9, 10], "labelPadding": 16, "titlePadding": 24, "titleFontSize": 16, "labelOverlap": false}},
        "color": {"field": "series", "type": "nominal", "title": null}
      }
    },
    {
      "data": {"values": [{"frame": "chart area"}]},
      "mark": {"type": "rect", "fill": null, "filled": false, "stroke": "#4F81BD", "strokeWidth": 2.5, "clip": false},
      "encoding": {
        "x": {"datum": 212.6, "type": "quantitative", "title": "Wavelength (nm)",
          "axis": {"values": [300, 500, 700], "labelPadding": 21, "titlePadding": 27, "titleFontSize": 17, "labelOverlap": false}},
        "x2": {"datum": 920},
        "y": {"datum": 10.52, "type": "quantitative", "title": "Absorbance",
          "axis": {"values": [0, 1, 2, 3, 4, 5, 6, 7, 8, 9, 10], "labelPadding": 16, "titlePadding": 24, "titleFontSize": 16, "labelOverlap": false}},
        "y2": {"datum": -5}
      }
    }
  ]
}
